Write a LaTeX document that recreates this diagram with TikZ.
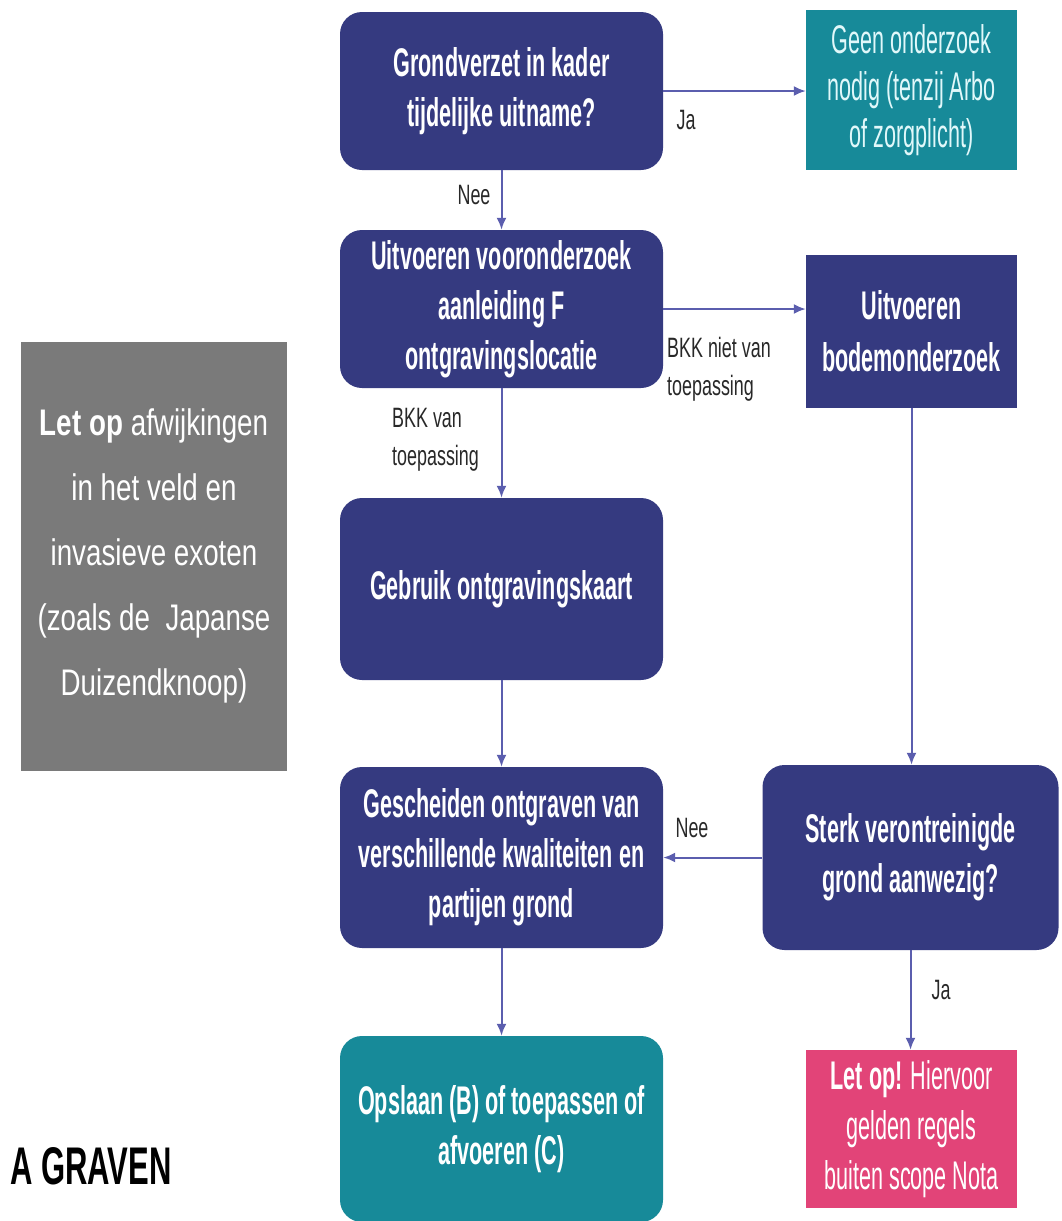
\documentclass[tikz,border=0pt]{standalone}
\usepackage{fontspec}
\setmainfont{Liberation Sans}
\newfontfamily\bxf{Liberation Sans}[FakeStretch=0.54]
\newfontfamily\ttlf{Liberation Sans}[FakeStretch=0.585]
\newfontfamily\gyf{Liberation Sans}[FakeStretch=0.75]
\newfontfamily\lbf{Liberation Sans}[FakeStretch=0.64]
\usetikzlibrary{arrows.meta}
\definecolor{navyc}{RGB}{53,58,128}
\definecolor{tealc}{RGB}{23,138,153}
\definecolor{pinkc}{RGB}{226,68,120}
\definecolor{grayc}{RGB}{122,122,122}
\definecolor{arrowc}{RGB}{91,94,174}
\definecolor{lblc}{RGB}{40,40,40}
\tikzset{
  boxbase/.style={inner sep=0pt, align=center, text=white},
  navybox/.style={boxbase, fill=navyc, rounded corners=22pt, font=\bxf\bfseries\fontsize{40}{50}\selectfont},
  navysq/.style={boxbase, fill=navyc, font=\bxf\bfseries\fontsize{40}{52}\selectfont},
  tealround/.style={boxbase, fill=tealc, rounded corners=22pt, font=\bxf\bfseries\fontsize{40}{50}\selectfont},
  tealsq/.style={boxbase, fill=tealc, text={rgb,255:red,225;green,248;blue,250}, font=\bxf\fontsize{40}{47}\selectfont},
  pinksq/.style={boxbase, fill=pinkc, font=\bxf\fontsize{40}{50}\selectfont},
  graybox/.style={boxbase, fill=grayc, font=\gyf\fontsize{37}{65}\selectfont},
  lbl/.style={inner sep=0pt, text=lblc, font=\lbf\fontsize{28}{38}\selectfont},
  conn/.style={draw=arrowc, line width=2pt, -{Latex[length=12pt,width=10pt]}}
}
\begin{document}
\begin{tikzpicture}[x=1pt,y=-1pt]
\useasboundingbox (0,0) rectangle (1061,1221);
\node[navybox, minimum width=323pt, minimum height=158pt] (b1) at (501.5,91) {Grondverzet in kader\\tijdelijke uitname?};
\node[tealsq, minimum width=211pt, minimum height=160pt] (geen) at (911.5,90) {Geen onderzoek\\nodig (tenzij Arbo\\of zorgplicht)};
\node[navybox, minimum width=323pt, minimum height=158pt] (b2) at (501.5,309) {Uitvoeren vooronderzoek\\aanleiding F\\ontgravingslocatie};
\node[navysq, minimum width=211pt, minimum height=153pt] (b3) at (911.5,331.5) {Uitvoeren\\bodemonderzoek};
\node[navybox, minimum width=323pt, minimum height=182pt] (b4) at (501.5,589) {Gebruik ontgravingskaart};
\node[navybox, minimum width=323pt, minimum height=181pt] (b5) at (501.5,857.5) {Gescheiden ontgraven van\\verschillende kwaliteiten en\\partijen grond};
\node[navybox, minimum width=296pt, minimum height=185pt] (b6) at (910.5,857.5) {Sterk verontreinigde\\grond aanwezig?};
\node[tealround, minimum width=323pt, minimum height=186pt] (b7) at (501.5,1129) {Opslaan (B) of toepassen of\\afvoeren (C)};
\node[pinksq, minimum width=211pt, minimum height=158pt] (b8) at (911.5,1129) {\textbf{Let op!} Hiervoor\\gelden regels\\buiten scope Nota};
\node[graybox, minimum width=266pt, minimum height=429pt] (note) at (154,556) {\textbf{Let op} afwijkingen\\in het veld en\\invasieve exoten\\(zoals de\ \ Japanse\\Duizendknoop)};
\node[anchor=west, inner sep=0pt, text=black, font=\ttlf\bfseries\fontsize{53}{60}\selectfont] (title) at (10,1166) {A GRAVEN};

\draw[conn] (b1.east) -- (b1.east -| geen.west);
\draw[conn] (b1.south) -- (b2.north);
\draw[conn] (b2.east) -- (b2.east -| b3.west);
\draw[conn] (b2.south) -- (b4.north);
\draw[conn] (b3.south) -- (b3.south |- b6.north);
\draw[conn] (b4.south) -- (b5.north);
\draw[conn] (b6.west) -- (b6.west -| b5.east);
\draw[conn] (b5.south) -- (b7.north);
\draw[conn] (b6.south) -- (b6.south |- b8.north);

\node[lbl] (lja1) at (686,120) {Ja};
\node[lbl] (lnee1) at (474,195) {Nee};
\node[lbl, anchor=west, align=left] (lbkkn) at (667,369) {BKK niet van\\toepassing};
\node[lbl, anchor=west, align=left] (lbkk) at (392,440) {BKK van\\toepassing};
\node[lbl] (lnee2) at (692,828) {Nee};
\node[lbl] (lja2) at (941,990) {Ja};
\end{tikzpicture}
\end{document}
